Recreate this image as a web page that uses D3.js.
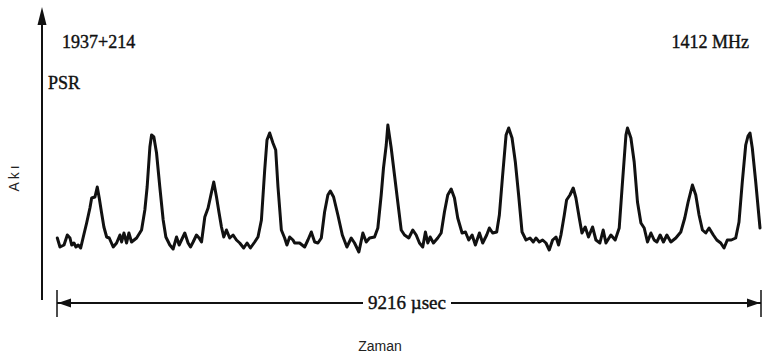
<!DOCTYPE html>
<html>
<head>
<meta charset="utf-8">
<script src="https://cdn.jsdelivr.net/npm/d3@7"></script>
<style>
  body { margin: 0; background: #fff; }
</style>
</head>
<body>
<svg id="drawing_region"></svg>
<script>
// time in microseconds, flux in arbitrary units
const timeUs = [4,39,92,135,170,192,222,248,278,310,344,388,431,454,497,527,553,584,614,650,684,736,780,824,846,876,911,941,976,1042,1107,1150,1180,1216,1238,1268,1303,1346,1390,1425,1477,1520,1565,1599,1630,1673,1716,1748,1782,1826,1860,1892,1935,1978,2009,2052,2088,2122,2153,2183,2218,2261,2305,2349,2392,2444,2488,2532,2588,2631,2676,2719,2749,2784,2827,2863,2893,2937,2980,3010,3046,3089,3111,3176,3242,3285,3329,3373,3416,3460,3503,3546,3578,3621,3677,3735,3795,3852,3895,3952,4004,4048,4092,4157,4200,4244,4274,4310,4331,4375,4418,4461,4506,4549,4605,4658,4702,4745,4788,4823,4854,4885,4928,4984,5029,5072,5115,5160,5203,5246,5303,5347,5390,5434,5477,5530,5573,5625,5660,5703,5756,5791,5834,5879,5913,5957,6000,6043,6088,6140,6192,6235,6270,6314,6357,6401,6444,6488,6532,6566,6597,6641,6671,6715,6758,6793,6837,6872,6915,6958,7011,7055,7107,7150,7186,7251,7307,7360,7403,7448,7468,7513,7556,7599,7644,7687,7730,7775,7817,7853,7896,7939,7984,8036,8101,8166,8218,8262,8318,8362,8405,8449,8493,8536,8592,8637,8689,8732,8775,8827,8885,8928,8971,9016,9046,9072,9102,9147,9203];
const flux = [17,8,10,20,17,10,12,8,10,7,18,32,47,57,58,68,57,42,28,18,17,8,12,20,13,22,12,22,13,17,25,45,68,108,120,118,102,68,35,18,10,6,18,10,15,22,12,8,13,20,17,13,38,47,58,73,58,42,28,18,25,17,20,15,12,7,12,7,13,18,35,85,115,122,112,105,68,25,17,10,18,15,12,12,8,15,23,13,12,17,43,60,64,58,40,20,8,17,12,3,22,13,17,18,27,60,87,110,130,107,80,53,25,20,17,25,20,12,8,23,12,18,12,17,22,43,60,66,57,37,22,23,15,20,10,22,12,20,27,22,23,40,80,120,127,117,93,60,23,15,17,13,17,13,15,12,5,15,18,10,20,40,55,60,67,57,37,22,28,18,28,15,12,25,12,20,15,27,73,120,127,117,93,53,32,27,13,22,15,13,20,13,20,13,17,23,37,53,70,60,40,25,22,27,20,15,12,7,15,15,17,33,73,110,119,122,107,73,27];

const periodSpan = 9216;
const periodLabel = "9216 \u00b5sec";
const sourceName = "1937+214";
const freqLabel = "1412 MHz";
const kindLabel = "PSR";
const yTitle = "Akı";
const xTitle = "Zaman";

class PulseChart {
    constructor(config, data) {
        this.config = {
            parent: config.parent,
            width: config.width || 762,
            height: config.height || 356
        };
        this.data = data;
        this.init();
    }

    init() {
        let self = this;
        self.svg = d3.select(self.config.parent)
            .attr('width', self.config.width)
            .attr('height', self.config.height);

        self.xscale = d3.scaleLinear()
            .domain([0, periodSpan])
            .range([57, 761]);

        self.yscale = d3.scaleLinear()
            .domain([0, 130])
            .range([255, 125]);
    }

    update() {
        let self = this;
        self.render();
    }

    render() {
        let self = this;
        const serif = '"Liberation Serif", "DejaVu Serif", serif';
        const ink = '#111';

        // vertical axis with arrow
        self.svg.append('line')
            .attr('x1', 42).attr('x2', 42)
            .attr('y1', 22).attr('y2', 300)
            .attr('stroke', ink).attr('stroke-width', 2);
        self.svg.append('path')
            .attr('d', 'M42,7 L37.5,25 L46.5,25 Z')
            .attr('fill', ink);

        // trace
        const line = d3.line()
            .x(d => self.xscale(d.t))
            .y(d => self.yscale(d.v));

        self.svg.append('path')
            .datum(self.data)
            .attr('d', line)
            .attr('fill', 'none')
            .attr('stroke', ink)
            .attr('stroke-width', 3)
            .attr('stroke-linejoin', 'round')
            .attr('stroke-linecap', 'round');

        // period span marker
        const x0 = self.xscale(0), x1 = self.xscale(periodSpan), yy = 303;
        self.svg.append('line')
            .attr('x1', x0).attr('x2', x1).attr('y1', yy).attr('y2', yy)
            .attr('stroke', ink).attr('stroke-width', 1.8);
        [x0, x1].forEach(x => {
            self.svg.append('line')
                .attr('x1', x).attr('x2', x).attr('y1', 290).attr('y2', 317)
                .attr('stroke', ink).attr('stroke-width', 1.5);
        });
        self.svg.append('path')
            .attr('d', `M${x0 + 1},${yy} L${x0 + 14},${yy - 4.5} L${x0 + 14},${yy + 4.5} Z`)
            .attr('fill', ink);
        self.svg.append('path')
            .attr('d', `M${x1 - 1},${yy} L${x1 - 14},${yy - 4.5} L${x1 - 14},${yy + 4.5} Z`)
            .attr('fill', ink);

        const mid = self.xscale(periodSpan / 2) - 2;
        self.svg.append('rect')
            .attr('x', mid - 44).attr('y', yy - 10)
            .attr('width', 88).attr('height', 20)
            .attr('fill', '#fff');
        self.svg.append('text')
            .attr('x', mid).attr('y', yy + 6)
            .attr('text-anchor', 'middle')
            .attr('font-family', serif)
            .attr('font-size', 19)
            .attr('fill', ink).attr('stroke', ink).attr('stroke-width', 0.4)
            .text(periodLabel);

        // labels
        const label = (x, y, anchor, txt) => self.svg.append('text')
            .attr('x', x).attr('y', y)
            .attr('text-anchor', anchor)
            .attr('font-family', serif).attr('font-size', 18)
            .attr('fill', ink).attr('stroke', ink).attr('stroke-width', 0.4)
            .text(txt);
        label(62, 48, 'start', sourceName);
        label(749, 48, 'end', freqLabel);
        label(48, 89, 'start', kindLabel);

        self.svg.append('text')
            .attr('transform', 'translate(19,177) rotate(-90)')
            .attr('text-anchor', 'middle')
            .attr('font-family', '"Liberation Sans", Arial, sans-serif')
            .attr('font-size', 14)
            .attr('letter-spacing', 3)
            .attr('fill', '#222')
            .text(yTitle);
        self.svg.append('text')
            .attr('x', 380).attr('y', 351)
            .attr('text-anchor', 'middle')
            .attr('font-family', '"Liberation Sans", Arial, sans-serif')
            .attr('font-size', 14)
            .attr('fill', '#222')
            .text(xTitle);
    }
}

const data = timeUs.map((t, i) => ({ t: t, v: flux[i] }));
const chart = new PulseChart({ parent: '#drawing_region', width: 762, height: 356 }, data);
chart.update();
</script>
</body>
</html>
